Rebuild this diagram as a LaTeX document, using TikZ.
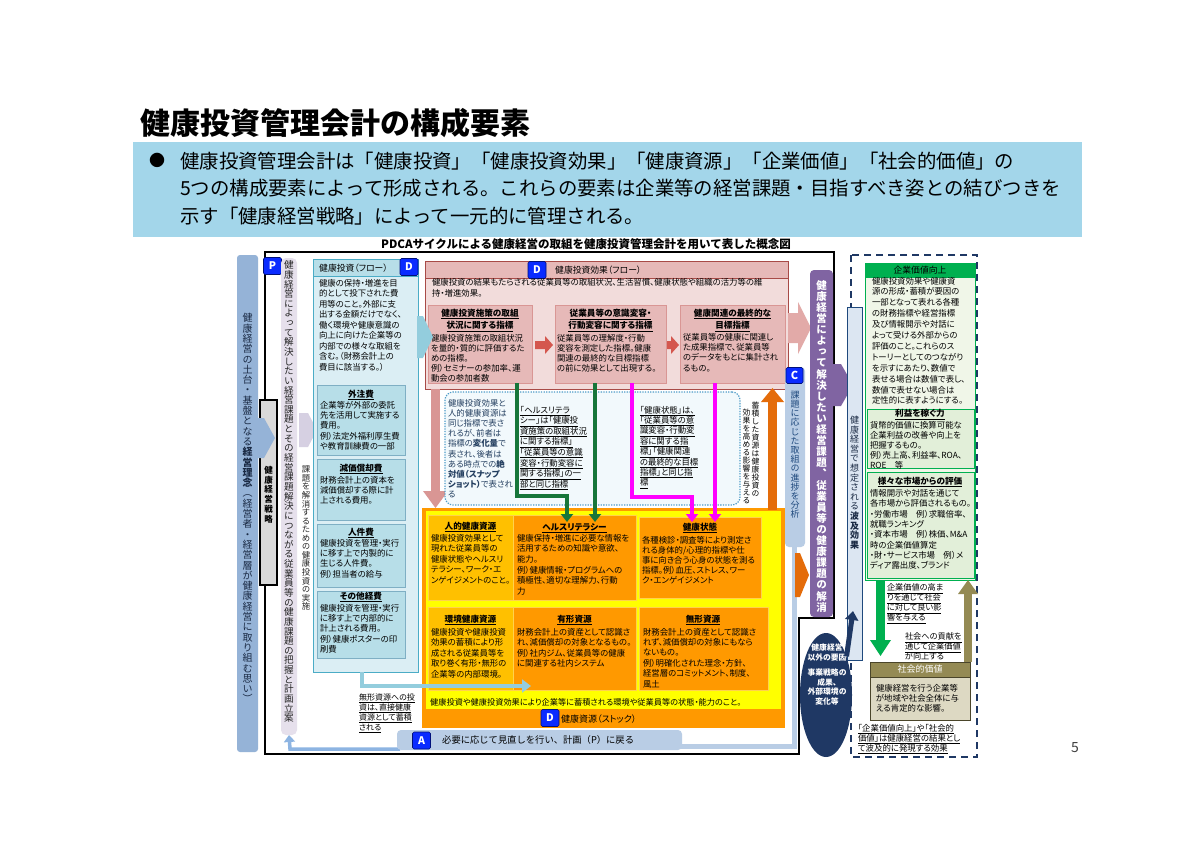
\documentclass[tikz,border=0pt]{standalone}
\usepackage{fontspec}
\usepackage{graphicx}
\setmainfont{Noto Sans CJK JP}
\newfontfamily\pf[RawFeature=+palt]{Noto Sans CJK JP}
\newfontfamily\vf[RawFeature=+vert]{Noto Sans CJK JP}
\usetikzlibrary{arrows.meta,shapes.geometric}

\definecolor{bannerc}{HTML}{A3D6EA}
\definecolor{barblue}{HTML}{95B3D7}
\definecolor{grayc}{HTML}{D9D9D9}
\definecolor{lavc}{HTML}{E6E0EC}
\definecolor{lavarrow}{HTML}{D6D0E2}
\definecolor{invfill}{HTML}{DBEEF4}
\definecolor{invhead}{HTML}{B7DEE8}
\definecolor{invborder}{HTML}{4BACC6}
\definecolor{invsubline}{HTML}{7FAFC4}
\definecolor{lbline}{HTML}{93CDDD}
\definecolor{efffill}{HTML}{F2DCDB}
\definecolor{effhead}{HTML}{E6B9B8}
\definecolor{effborder}{HTML}{A84B47}
\definecolor{esubline}{HTML}{D99694}
\definecolor{redarr}{HTML}{D4574E}
\definecolor{pinkarr}{HTML}{E2AAA8}
\definecolor{pinkdown}{HTML}{D99694}
\definecolor{dotfill}{HTML}{F2F9FC}
\definecolor{dotborder}{HTML}{4F9CC8}
\definecolor{dotnavy}{HTML}{243F60}
\definecolor{dkgreen}{HTML}{17763A}
\definecolor{magc}{HTML}{FF00FF}
\definecolor{orangec}{HTML}{E46C0A}
\definecolor{orangeframe}{HTML}{FF9900}
\definecolor{yellowc}{HTML}{FFFF00}
\definecolor{goldc}{HTML}{FFC000}
\definecolor{orangebox}{HTML}{FF9900}
\definecolor{goldline}{HTML}{FFD24D}
\definecolor{cbar}{HTML}{B9CDE5}
\definecolor{loopline}{HTML}{8DB4E2}
\definecolor{purplec}{HTML}{8064A2}
\definecolor{ripfill}{HTML}{DCE6F2}
\definecolor{ripborder}{HTML}{1F497D}
\definecolor{navyc}{HTML}{1F3864}
\definecolor{greenfill}{HTML}{F0F6E8}
\definecolor{greenc}{HTML}{00B050}
\definecolor{greensub}{HTML}{E2EFD9}
\definecolor{khaki}{HTML}{948A54}
\definecolor{khakibody}{HTML}{DDD9C3}
\definecolor{khakiborder}{HTML}{4A452A}
\definecolor{labfill}{HTML}{0A2BFF}
\definecolor{labdraw}{HTML}{00107A}
\definecolor{vtext}{HTML}{1A2A44}

\makeatletter
\def\vstk@stop{\vstk@stop}
\newcommand\vstk[1]{\vstk@a#1\vstk@stop}
\def\vstk@a#1{\ifx\vstk@stop#1\else\hbox to 1.1em{\hss#1\hss}\expandafter\vstk@a\fi}
\makeatother
\newcommand\VT[3]{\vbox{\vf\fontsize{#1}{#2}\selectfont\lineskiplimit=-30pt\lineskip=0pt\relax #3}}
\newcommand\myul[1]{\underline{#1}}
\newcommand\bx[6]{\node[#6, anchor=north west, inner sep=0pt, outer sep=0pt, minimum width={(#4-#2)*1pt}, minimum height={(#5-#3)*1pt}] (#1) at (#2,#3) {};}

\tikzset{
  txt/.style={inner sep=0pt, outer sep=0pt, anchor=north west, align=left, font=\pf\fontsize{8.4}{#1}\selectfont},
  txt/.default=10.4,
  ttl/.style={inner sep=0pt, outer sep=0pt, align=center, font=\pf\bfseries\fontsize{8.6}{#1}\selectfont},
  ttl/.default=12.5,
  vt/.style={inner sep=0pt, outer sep=0pt, anchor=north},
  labl/.style={fill=labfill, draw=labdraw, line width=0.6pt, rounded corners=1.5pt, text=white, font=\bfseries\fontsize{10.5}{10.5}\selectfont, minimum width=18pt, minimum height=17pt, inner sep=0pt},
  frameline/.style={draw=black, line width=1.5pt},
  invsubbox/.style={fill=invhead, draw=invsubline, line width=0.7pt},
  esubbox/.style={fill=effhead, draw=esubline, line width=0.7pt},
  garrow/.style={draw=dkgreen, line width=3.5pt, line join=miter, -{Triangle[length=8pt,width=12pt]}},
  marrow/.style={draw=magc, line width=3.5pt, line join=miter, -{Triangle[length=8pt,width=12pt]}},
}

\begin{document}
\begin{tikzpicture}[x=1pt,y=-1pt]
\useasboundingbox (0,0) rectangle (1200,849);
\fill[white] (0,0) rectangle (1200,849);

% ---------- title and banner ----------
\node[anchor=west, inner sep=0pt, font=\bfseries\fontsize{30}{30}\selectfont] (title) at (140,123) {健康投資管理会計の構成要素};
\bx{banner}{133}{142}{1082}{237}{fill=bannerc}
\node[inner sep=0pt, font=\fontsize{16}{16}\selectfont] (bul) at (157,160) {●};
\node[anchor=north west, inner sep=0pt, align=left, font=\fontsize{19.4}{27.5}\selectfont] (btxt) at (180,151.5) {健康投資管理会計は「健康投資」「健康投資効果」「健康資源」「企業価値」「社会的価値」の\\5つの構成要素によって形成される。これらの要素は企業等の経営課題・目指すべき姿との結びつきを\\示す「健康経営戦略」によって一元的に管理される。};
\node[inner sep=0pt, font=\bfseries\fontsize{11.5}{12}\selectfont] (cap) at (586,244) {PDCAサイクルによる健康経営の取組を健康投資管理会計を用いて表した概念図};
\node[inner sep=0pt, font=\fontsize{14}{14}\selectfont, text=black!75] (pg) at (1075,748) {5};

% ---------- frame and left column ----------
\bx{bar}{237}{255}{258}{752}{fill=barblue, rounded corners=3pt}
\node[vt, text=vtext] (v1) at (247.5,313.5) {\VT{10}{10.3}{\vstk{健康経営の土台・基盤となる}\bfseries\vstk{経営理念}\mdseries\vstk{（経営者・経営層が健康経営に取り組む思い）}}};
\draw[frameline] (265,252) -- (834,252) -- (834,618) -- (799,618) -- (799,754) -- (265,754) -- cycle;
\bx{gray}{260}{400}{277}{585}{fill=grayc, draw=black, line width=1.3pt}
\node[vt] (v2) at (268.5,466) {\VT{8.5}{9.8}{\bfseries\vstk{健康経営戦略}}};
\fill[barblue] (256,418) -- (264,418) -- (275,438) -- (264,458) -- (256,458) -- cycle;
\node[labl] (P) at (272.5,266) {P};

\bx{lav}{281}{258}{297}{735}{fill=lavc, rounded corners=5pt}
\node[vt, text=black!85] (v3) at (289,260.7) {\VT{9.6}{9.64}{\vstk{健康経営によって解決したい経営課題とその経営課題解決につながる従業員等の健康課題の把握と計画立案}}};
\fill[lavarrow] (299,413) -- (308,413) -- (317,430) -- (308,447) -- (299,447) -- cycle;
\node[vt, text=black!85] (v4) at (306,466) {\VT{8.4}{8.56}{\vstk{課題を解消するための健康投資の実施}}};

% loop lines (A -> P, C -> A)
\coordinate (loopR) at (794,547);
\coordinate (loopB) at (794,746);
\coordinate (loopA) at (680,746);
\draw[draw=cbar, line width=5pt] (loopR) -- (loopB) -- (loopA);
\coordinate (loopS) at (400,749);
\coordinate (loopC) at (290,749);
\draw[draw=loopline, line width=3.5pt, -{Triangle[length=7pt,width=11pt]}] (loopS) -- (loopC) -- (lav.south);

% ---------- 健康投資 (flow) ----------
\bx{inv}{313}{259}{418}{672}{fill=invfill, draw=invborder, line width=0.8pt}
\bx{invh}{313}{259}{418}{276}{fill=invhead, draw=invborder, line width=0.8pt}
\node[anchor=west, inner sep=0pt, font=\pf\fontsize{8.8}{9}\selectfont] (invt) at (319,268) {健康投資（フロー）};
\node[labl] (D1) at (409,267) {D};
\node[txt=10.5] (invx) at (319,279) {健康の保持・増進を目\\的として投下された費\\用等のこと。外部に支\\出する金額だけでなく、\\働く環境や健康意識の\\向上に向けた企業等の\\内部での様々な取組を\\含む。（財務会計上の\\費目に該当する。）};

\bx{gai}{317}{385}{405}{455}{invsubbox}
\node[ttl] (gait) at (361,395) {\myul{外注費}};
\node[txt=10.3] (gaix) at (320,401) {企業等が外部の委託\\先を活用して実施する\\費用。\\例）法定外福利厚生費\\や教育訓練費の一部};
\bx{gen}{317}{459}{405}{520}{invsubbox}
\node[ttl] (gent) at (361,469) {\myul{減価償却費}};
\node[txt=10.3] (genx) at (320,476) {財務会計上の資本を\\減価償却する際に計\\上される費用。};
\bx{jin}{317}{524}{405}{587}{invsubbox}
\node[ttl] (jint) at (361,533) {\myul{人件費}};
\node[txt=10.3] (jinx) at (320,539) {健康投資を管理・実行\\に移す上で内製的に\\生じる人件費。\\例）担当者の給与};
\bx{son}{317}{591}{405}{658}{invsubbox}
\node[ttl] (sont) at (361,597) {\myul{その他経費}};
\node[txt=10.3] (sonx) at (320,604) {健康投資を管理・実行\\に移す上で内部的に\\計上される費用。\\例）健康ポスターの印\\刷費};

\coordinate (lbA) at (362,672);
\coordinate (lbB) at (362,686);
\coordinate (lbC) at (531,686);
\draw[draw=lbline, line width=4pt, -{Triangle[length=9pt,width=13pt]}] (lbA) -- (lbB) -- (lbC);
\node[txt=10, font=\pf\fontsize{8}{10}\selectfont] (mukei) at (359,693.5) {\myul{無形資源への投}\\\myul{資は、直接健康}\\\myul{資源として蓄積}\\\myul{される}};

% A bar
\bx{abar}{397}{730}{682}{750}{fill=cbar, rounded corners=4pt}
\node[labl] (A) at (421.5,740.5) {A};
\node[anchor=west, inner sep=0pt, font=\fontsize{9.3}{9.3}\selectfont] (atxt) at (442,740) {必要に応じて見直しを行い、計画（P）に戻る};

% ---------- 健康投資効果 (flow) ----------
\bx{eff}{425}{261}{788}{389}{fill=efffill, draw=effborder, line width=0.8pt}
\bx{effh}{425}{261}{788}{278}{fill=effhead, draw=effborder, line width=0.8pt}
\node[labl] (D2) at (537,270) {D};
\node[anchor=west, inner sep=0pt, font=\pf\fontsize{8.8}{9}\selectfont] (efft) at (555,270) {健康投資効果（フロー）};
\node[txt=11] (effx) at (432,278.5) {健康投資の結果もたらされる従業員等の取組状況、生活習慣、健康状態や組織の活力等の維\\持・増進効果。};

\bx{e1}{428}{305}{532}{383}{esubbox}
\node[ttl, anchor=north] (e1t) at (480,309) {\myul{健康投資施策の取組}\\\myul{状況に関する指標}};
\node[txt=10.2] (e1x) at (431,334) {健康投資施策の取組状況\\を量的・質的に評価するた\\めの指標。\\例）セミナーの参加率、運\\動会の参加者数};
\bx{e2}{555}{305}{666}{383}{esubbox}
\node[ttl, anchor=north] (e2t) at (610.5,309) {\myul{従業員等の意識変容・}\\\myul{行動変容に関する指標}};
\node[txt=10.2] (e2x) at (557,334) {従業員等の理解度・行動\\変容を測定した指標。健康\\関連の最終的な目標指標\\の前に効果として出現する。};
\bx{e3}{680}{305}{785}{383}{esubbox}
\node[ttl, anchor=north] (e3t) at (732.5,309) {\myul{健康関連の最終的な}\\\myul{目標指標}};
\node[txt=10.3] (e3x) at (683,333) {従業員等の健康に関連し\\た成果指標で、従業員等\\のデータをもとに集計され\\るもの。};

\fill[redarr] (535,341) -- (545,341) -- (545,336) -- (553,345) -- (545,354) -- (545,349) -- (535,349) -- cycle;
\fill[redarr] (667,341) -- (671,341) -- (671,336) -- (679,345) -- (671,354) -- (671,349) -- (667,349) -- cycle;
\fill[pinkarr] (788,313) -- (798,313) -- (798,302) -- (811,328) -- (798,354) -- (798,343) -- (788,343) -- cycle;
\fill[lbline] (417,316) -- (423,316) -- (433,337) -- (423,358) -- (417,358) -- cycle;

% pink down arrow
\fill[pinkdown] (431,389) rectangle (440,491);
\fill[pinkdown] (423,491) -- (448,491) -- (435.5,508) -- cycle;

% dotted box
\bx{dot}{445}{392}{740}{505}{fill=dotfill, draw=dotborder, line width=1.2pt, dash pattern=on 1.3pt off 1.3pt, rounded corners=8pt}
\node[txt=10.2, text=dotnavy] (t1) at (448,399) {健康投資効果と\\人的健康資源は\\同じ指標で表さ\\れるが、前者は\\指標の\textbf{変化量}で\\表され、後者は\\ある時点での\textbf{絶}\\\textbf{対値（スナップ}\\\textbf{ショット）}で表され\\る};
\node[txt=10.6] (t2) at (520,406) {\myul{「ヘルスリテラ}\\\myul{シー」は「健康投}\\\myul{資施策の取組状況}\\\myul{に関する指標」}\\\myul{「従業員等の意識}\\\myul{変容・行動変容に}\\\myul{関する指標」の一}\\\myul{部と同じ指標}};
\node[txt=10.4] (t3) at (640,406) {\myul{「健康状態」は、}\\\myul{「従業員等の意}\\\myul{識変容・行動変}\\\myul{容に関する指}\\\myul{標」「健康関連}\\\myul{の最終的な目標}\\\myul{指標」と同じ指}\\\myul{標}};

\node[vt] (v5a) at (755.5,401.5) {\VT{7.8}{8}{\vstk{蓄積した資源は健康投資の}}};
\node[vt] (v5b) at (746.5,408.5) {\VT{7.8}{8}{\vstk{効果を高める影響を与える}}};

% ---------- 健康資源 (stock) ----------
\bx{res}{422}{508}{785}{728}{fill=orangeframe}
\bx{resy}{426}{511}{781}{709}{fill=yellowc}
\bx{hum}{428}{515}{513}{600}{fill=goldc, draw=goldline, line width=0.8pt}
\bx{hl}{513}{515}{636}{600}{fill=orangebox, draw=goldline, line width=0.8pt}
\bx{hs}{639}{517}{761}{598}{fill=orangebox, draw=goldline, line width=0.8pt}
\bx{env}{428}{607}{513}{690}{fill=goldc, draw=goldline, line width=0.8pt}
\bx{tan}{513}{607}{636}{690}{fill=orangebox, draw=goldline, line width=0.8pt}
\bx{intg}{639}{607}{768}{690}{fill=orangebox, draw=goldline, line width=0.8pt}

\node[ttl] (humt) at (470.5,527) {\myul{人的健康資源}};
\node[txt=10.5] (humx) at (431,534) {健康投資効果として\\現れた従業員等の\\健康状態やヘルスリ\\テラシー、ワーク・エ\\ンゲイジメントのこと。};
\node[ttl] (hlt) at (574.5,528) {\myul{ヘルスリテラシー}};
\node[txt=10.7] (hlx) at (517,534) {健康保持・増進に必要な情報を\\活用するための知識や意欲、\\能力。\\例）健康情報・プログラムへの\\積極性、適切な理解力、行動\\力};
\node[ttl] (hst) at (700,528) {\myul{健康状態}};
\node[txt=10.2] (hsx) at (642,536) {各種検診・調査等により測定さ\\れる身体的/心理的指標や仕\\事に向き合う心身の状態を測る\\指標。例）血圧、ストレス、ワー\\ク・エンゲイジメント};
\node[ttl] (envt) at (470.5,620) {\myul{環境健康資源}};
\node[txt=10.5] (envx) at (431,628) {健康投資や健康投資\\効果の蓄積により形\\成される従業員等を\\取り巻く有形・無形の\\企業等の内部環境。};
\node[ttl] (tant) at (574.5,620) {\myul{有形資源}};
\node[txt=10.5] (tanx) at (517,628) {財務会計上の資産として認識さ\\れ、減価償却の対象となるもの。\\例）社内ジム、従業員等の健康\\に関連する社内システム};
\node[ttl] (intt) at (703,620) {\myul{無形資源}};
\node[txt=10.4] (intx) at (643,628) {財務会計上の資産として認識さ\\れず、減価償却の対象にもなら\\ないもの。\\例）明確化された理念・方針、\\経営層のコミットメント、制度、\\風土};
\node[anchor=west, inner sep=0pt, font=\pf\fontsize{8.2}{9}\selectfont] (resx) at (430,702) {健康投資や健康投資効果により企業等に蓄積される環境や従業員等の状態・能力のこと。};
\node[labl] (D3) at (550,718) {D};
\node[anchor=west, inner sep=0pt, font=\pf\fontsize{9}{9}\selectfont] (rest) at (561,719) {健康資源（ストック）};

% light blue arrow head over stock (redraw tip on top)
\draw[draw=lbline, line width=4pt, -{Triangle[length=9pt,width=13pt]}] (lbB) -- (lbC);

% green and magenta connectors
\coordinate (g1a) at (517,383); \coordinate (g1b) at (517,496); \coordinate (g1c) at (567,496); \coordinate (g1d) at (567,522);
\draw[garrow] (g1a) -- (g1b) -- (g1c) -- (g1d);
\coordinate (g2a) at (595,383); \coordinate (g2b) at (595,522);
\draw[garrow] (g2a) -- (g2b);
\coordinate (m1a) at (632,383); \coordinate (m1b) at (632,497); \coordinate (m1c) at (692,497); \coordinate (m1d) at (692,522);
\draw[marrow] (m1a) -- (m1b) -- (m1c) -- (m1d);
\coordinate (m2a) at (715,383); \coordinate (m2b) at (715,522);
\draw[marrow] (m2a) -- (m2b);

% orange up arrow
\fill[orangec] (768,510) rectangle (777,401);
\fill[orangec] (761,402) -- (784,402) -- (772.5,388) -- cycle;
% orange chevron right
\fill[orangec] (795,553) -- (800,553) -- (809,575) -- (800,597) -- (795,597) -- cycle;

% ---------- C bar and purple bar ----------
\bx{cb}{785}{367}{805}{547}{fill=cbar, rounded corners=4pt}
\node[labl, minimum width=17pt, minimum height=16pt, font=\bfseries\rmfamily\fontsize{11}{11}\selectfont] (C) at (794.5,375.5) {C};
\node[vt, text=ripborder] (v6) at (795,391) {\VT{9}{9.2}{\vstk{課題に応じた取組の進捗を分析}}};

\bx{pur}{810}{270}{833}{617}{fill=purplec, rounded corners=4pt}
\node[vt, text=white] (v7) at (821.5,280.3) {\VT{10.5}{11.1}{\bfseries\vstk{健康経営によって解決したい経営課題、従業員等の健康課題の解消}}};
\fill[purplec] (832,364) -- (841,364) -- (853,385) -- (841,406) -- (832,406) -- cycle;

% ---------- ripple effects ----------
\draw[draw=navyc, line width=2pt, dash pattern=on 7pt off 5pt] (851,255) rectangle (977,757);
\bx{rip}{847}{307}{862}{660}{fill=ripfill, draw=ripborder, line width=0.7pt}
\node[vt, text=vtext] (v8) at (854.5,416) {\VT{9}{9.6}{\vstk{健康経営で想定される}\bfseries\vstk{波及効果}}};

\node[ellipse, fill=navyc, minimum width=52pt, minimum height=124pt, inner sep=0pt] (ell) at (826,695) {};
\node[anchor=north, inner sep=0pt, align=center, text=white, font=\pf\bfseries\fontsize{7.8}{9.5}\selectfont] (ellt) at (827,644) {健康経営\\以外の要因\\[6pt]事業戦略の\\成果、\\外部環境の\\変化等};
\coordinate (navyend) at (853,611);
\draw[draw=navyc, line width=5pt, -{Triangle[length=9pt,width=13pt]}] (ell.62) -- (navyend);

\bx{cv}{865}{263}{975}{580}{fill=greenfill, draw=greenc, line width=0.8pt}
\bx{cvh}{865}{263}{975}{277}{fill=greenc, draw=greenc, line width=0.8pt}
\node[inner sep=0pt, font=\pf\fontsize{8.8}{9}\selectfont] (cvt) at (920,270) {企業価値向上};
\node[txt=10.9] (cvx) at (872,277) {健康投資効果や健康資\\源の形成・蓄積が要因の\\一部となって表れる各種\\の財務指標や経営指標\\及び情報開示や対話に\\よって受ける外部からの\\評価のこと。これらのス\\トーリーとしてのつながり\\を示すにあたり、数値で\\表せる場合は数値で表し、\\数値で表せない場合は\\定性的に表すようにする。};
\bx{pr}{867}{409}{974}{468}{fill=greensub, draw=greenc, line width=0.8pt}
\node[ttl] (prt) at (920,414.5) {\myul{利益を稼ぐ力}};
\node[txt=10.2] (prx) at (870,421) {貨幣的価値に換算可能な\\企業利益の改善や向上を\\把握するもの。\\例）売上高、利益率、ROA、\\ROE　等};
\bx{mk}{867}{472}{974}{578}{fill=greensub, draw=greenc, line width=0.8pt}
\node[ttl] (mkt) at (920,482) {\myul{様々な市場からの評価}};
\node[txt=10.3] (mkx) at (870,489.5) {情報開示や対話を通じて\\各市場から評価されるもの。\\・労働市場　例）求職倍率、\\就職ランキング\\・資本市場　例）株価、M\&A\\時の企業価値算定\\・財・サービス市場　例）メ\\ディア露出度、ブランド};

\fill[greenc] (876,580) rectangle (885,641);
\fill[greenc] (870,640) -- (891,640) -- (880.5,656) -- cycle;
\node[txt=10, font=\pf\fontsize{8.2}{10}\selectfont] (gtx) at (887,584) {\myul{企業価値の高ま}\\\myul{りを通じて社会}\\\myul{に対して良い影}\\\myul{響を与える}};
\fill[khaki] (964,592) rectangle (972,662);
\fill[khaki] (958,594) -- (978,594) -- (968,580) -- cycle;
\node[txt=10, font=\pf\fontsize{8.2}{10}\selectfont] (ktx) at (905,633) {\myul{社会への貢献を}\\\myul{通じて企業価値}\\\myul{が向上する}};

\bx{sv}{870}{662}{970}{720}{fill=khakibody, draw=khakiborder, line width=0.8pt}
\bx{svh}{870}{662}{970}{677}{fill=khaki, draw=khakiborder, line width=0.8pt}
\node[inner sep=0pt, text=white, font=\pf\fontsize{9}{9}\selectfont] (svt) at (920,669.5) {社会的価値};
\node[txt=10] (svx) at (876,684) {健康経営を行う企業等\\が地域や社会全体に与\\える肯定的な影響。};
\node[txt=10] (btm) at (858,724) {\myul{「企業価値向上」や「社会的}\\\myul{価値」は健康経営の結果とし}\\\myul{て波及的に発現する効果}};
\end{tikzpicture}
\end{document}
